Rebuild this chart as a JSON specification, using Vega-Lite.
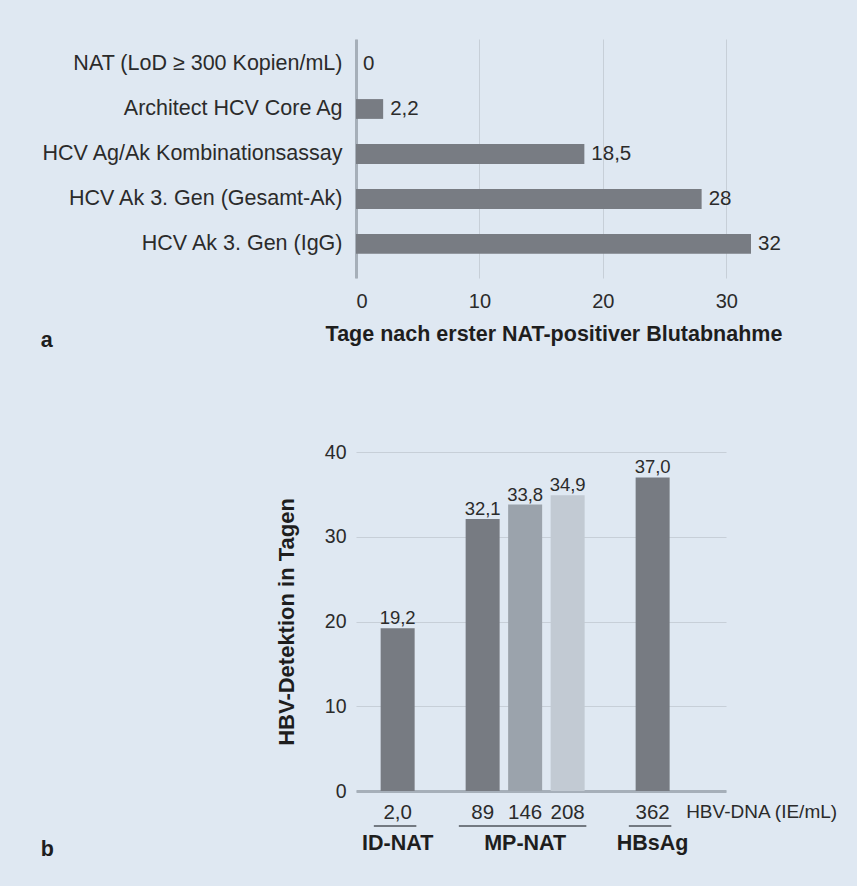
{
  "$schema": "https://vega.github.io/schema/vega-lite/v6.json",
  "background": "#dfe8f2",
  "padding": {"left": 40, "top": 39, "right": 19, "bottom": 29},
  "config": {
    "font": "Liberation Sans",
    "view": {"stroke": null},
    "locale": {"number": {"decimal": ",", "thousands": ".", "grouping": [3], "currency": ["", " €"]}},
    "axis": {"labelColor": "#2b2b2b", "titleColor": "#1e1e1e", "labelFont": "Liberation Sans", "titleFont": "Liberation Sans"},
    "title": {"font": "Liberation Sans"}
  },
  "title": {"text": "b", "orient": "bottom", "anchor": "start", "frame": "bounds", "fontSize": 21.5, "fontWeight": "bold", "color": "#1e1e1e", "offset": -16},
  "spacing": 91,
  "vconcat": [
    {
      "width": 395,
      "height": 239,
      "title": {"text": "a", "orient": "bottom", "anchor": "start", "frame": "bounds", "fontSize": 21.5, "fontWeight": "bold", "color": "#1e1e1e", "offset": -15},
      "data": {"values": [
        {"test": "NAT (LoD ≥ 300 Kopien/mL)", "days": 0},
        {"test": "Architect HCV Core Ag", "days": 2.2},
        {"test": "HCV Ag/Ak Kombinationsassay", "days": 18.5},
        {"test": "HCV Ak 3. Gen (Gesamt-Ak)", "days": 28},
        {"test": "HCV Ak 3. Gen (IgG)", "days": 32}
      ]},
      "encoding": {
        "y": {
          "field": "test", "type": "nominal", "sort": null,
          "scale": {"paddingInner": 0.56, "paddingOuter": 0.436, "align": 0.385},
          "axis": {"title": null, "ticks": false, "domainColor": "#a6afb9", "domainWidth": 3, "labelFontSize": 21.5, "labelPadding": 14, "labelLimit": 400}
        },
        "x": {
          "field": "days", "type": "quantitative",
          "scale": {"domain": [0, 32], "nice": false},
          "axis": {"title": "Tage nach erster NAT-positiver Blutabnahme", "values": [0, 10, 20, 30], "domain": false, "ticks": false, "tickSize": 0, "labelFontSize": 20, "labelPadding": 13, "gridColor": "#c7cfd8", "titleFontSize": 21.5, "titleFontWeight": "bold", "titlePadding": 12}
        }
      },
      "layer": [
        {"mark": {"type": "bar", "color": "#787c83"}},
        {
          "mark": {"type": "text", "align": "left", "baseline": "middle", "dx": 7, "fontSize": 20.5, "color": "#2b2b2b"},
          "encoding": {"text": {"field": "days", "type": "quantitative", "format": "~f"}}
        }
      ]
    },
    {
      "spacing": 2,
      "resolve": {"scale": {"x": "shared"}, "axis": {"x": "independent"}},
      "vconcat": [
        {
          "width": 370,
          "height": 339,
          "data": {"values": [
            {"dna": "2,0", "days": 19.2},
            {"dna": "89", "days": 32.1},
            {"dna": "146", "days": 33.8},
            {"dna": "208", "days": 34.9},
            {"dna": "362", "days": 37.0}
          ]},
          "encoding": {
            "x": {
              "field": "dna", "type": "nominal",
              "scale": {"domain": ["2,0", " ", "89", "146", "208", "  ", "362", "HBV-DNA (IE/mL)"], "paddingInner": 0.2, "paddingOuter": 0.453, "align": 0.64},
              "axis": {
                "title": null, "labelAngle": 0, "ticks": false, "tickSize": 0,
                "domainColor": "#a6afb9", "domainWidth": 3,
                "labelFontSize": {"condition": {"test": "datum.value === 'HBV-DNA (IE/mL)'", "value": 19}, "value": 20.5},
                "labelAlign": {"condition": {"test": "datum.value === 'HBV-DNA (IE/mL)'", "value": "left"}, "value": "center"},
                "labelOffset": {"condition": {"test": "datum.value === 'HBV-DNA (IE/mL)'", "value": -9}, "value": 0},
                "labelPadding": 11
              }
            },
            "y": {
              "field": "days", "type": "quantitative",
              "scale": {"domain": [0, 40], "nice": false},
              "axis": {"title": "HBV-Detektion in Tagen", "values": [0, 10, 20, 30, 40], "domain": false, "ticks": false, "tickSize": 0, "labelFontSize": 19.5, "labelPadding": 10, "gridColor": "#c7cfd8", "titleFontSize": 22, "titleFontWeight": "bold", "titlePadding": 26}
            }
          },
          "layer": [
            {
              "mark": {"type": "bar"},
              "encoding": {
                "color": {"field": "dna", "type": "nominal", "scale": {"domain": ["2,0", "89", "146", "208", "362"], "range": ["#777b82", "#777b82", "#9ba3ac", "#c2cad3", "#777b82"]}, "legend": null}
              }
            },
            {
              "mark": {"type": "text", "baseline": "alphabetic", "dy": -4, "fontSize": 18.5, "color": "#2b2b2b"},
              "encoding": {"text": {"field": "days", "type": "quantitative", "format": ".1f"}}
            }
          ]
        },
        {
          "width": 370,
          "height": 18,
          "data": {"values": [
            {"group": "ID-NAT", "first": "2,0", "last": "2,0", "middle": "2,0"},
            {"group": "MP-NAT", "first": "89", "last": "208", "middle": "146"},
            {"group": "HBsAg", "first": "362", "last": "362", "middle": "362"}
          ]},
          "layer": [
            {
              "mark": {"type": "rule", "color": "#4f545b", "strokeWidth": 1.5},
              "encoding": {
                "x": {"field": "first", "type": "nominal", "bandPosition": -0.2, "scale": {"domain": ["2,0", " ", "89", "146", "208", "  ", "362", "HBV-DNA (IE/mL)"], "paddingInner": 0.2, "paddingOuter": 0.453, "align": 0.64}, "axis": null},
                "x2": {"field": "last", "bandPosition": 1.05},
                "y": {"datum": "line", "type": "nominal", "scale": {"type": "point", "domain": ["line", "name"], "padding": 0}, "axis": null}
              }
            },
            {
              "mark": {"type": "text", "fontSize": 21.5, "fontWeight": "bold", "baseline": "middle", "color": "#1e1e1e"},
              "encoding": {
                "x": {"field": "middle", "type": "nominal", "axis": null},
                "y": {"datum": "name", "type": "nominal"},
                "text": {"field": "group"}
              }
            }
          ]
        }
      ]
    }
  ]
}
